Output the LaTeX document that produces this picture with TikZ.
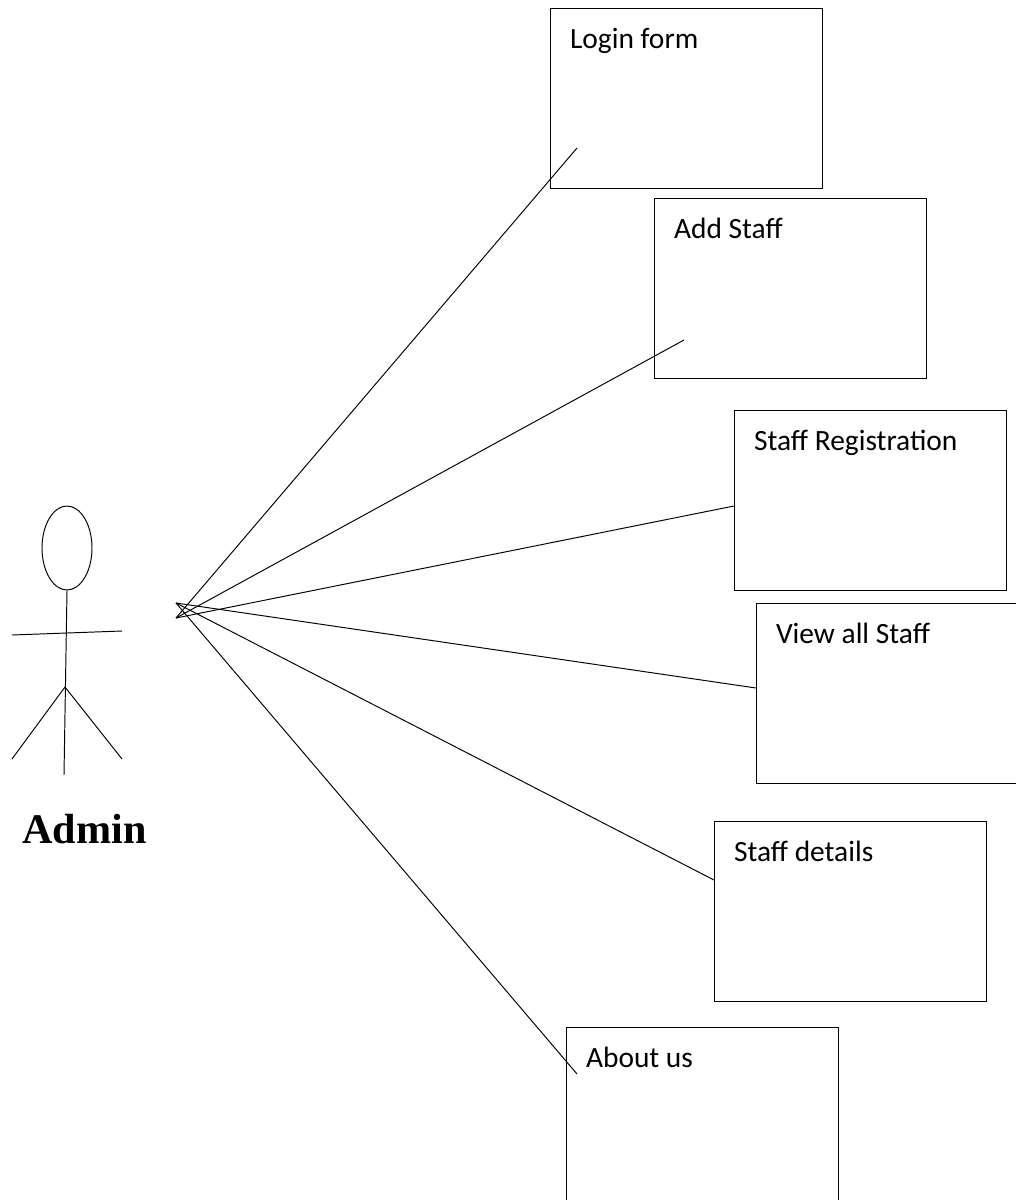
\documentclass[tikz,border=0pt]{standalone}
\usepackage{fontspec}
\usetikzlibrary{shapes.geometric}
\setmainfont{Carlito}
\newfontfamily\adminfont{Liberation Serif}
\tikzset{
    screenbox/.style={draw,rectangle,inner sep=0pt,minimum width=5.44cm,minimum height=3.6cm},
    screentext/.style={anchor=base west,inner sep=0pt,font=\fontsize{16.75pt}{20pt}\selectfont},
}

\begin{document}
\begin{tikzpicture}[x=0.02cm,y=-0.02cm,line width=0.55pt]
    \path[use as bounding box,clip] (0,0) rectangle (1016,1200);
    % screens
    \node[screenbox] (login) at (686,98) {};
    \node[screenbox] (add) at (790,288) {};
    \node[screenbox] (reg) at (870,500) {};
    \node[screenbox] (view) at (892,693) {};
    \node[screenbox] (details) at (850,911) {};
    \node[screenbox] (about) at (702,1117) {};
    \node[screentext] (logintext) at ([shift={+(20,40.5)}]login.north west) {Login form};
    \node[screentext] (addtext) at ([shift={+(20,40.5)}]add.north west) {Add Staff};
    \node[screentext] (regtext) at ([shift={+(20,40.5)}]reg.north west) {Staff Registration};
    \node[screentext] (viewtext) at ([shift={+(20,40.5)}]view.north west) {View all Staff};
    \node[screentext] (detailstext) at ([shift={+(20,40.5)}]details.north west) {Staff details};
    \node[screentext] (abouttext) at ([shift={+(20,40.5)}]about.north west) {About us};
    % actor
    \node[draw,ellipse,inner sep=0pt,minimum width=1cm,minimum height=1.68cm] (head) at (67,548) {};
    \coordinate (foot) at (64,775);
    \coordinate (hip) at (65,687);
    \coordinate (handl) at (12,635);
    \coordinate (handr) at (122,631);
    \coordinate (footl) at (12,759);
    \coordinate (footr) at (122,759);
    \draw (head.south)--(foot);
    \draw (handl)--(handr);
    \draw (hip)--(footl);
    \draw (hip)--(footr);
    \node[anchor=base west,inner sep=0pt,font=\adminfont\bfseries\fontsize{24pt}{29pt}\selectfont] (admin) at (22,843) {Admin};
    % connectors
    \coordinate (fanup) at (176,603);
    \coordinate (fanlow) at (176,618);
    \coordinate (loginend) at (577,148);
    \coordinate (addend) at (684,340);
    \coordinate (regend) at (734,506);
    \coordinate (viewend) at (756,688);
    \coordinate (detailsend) at (714,880);
    \coordinate (aboutend) at (577,1074);
    \draw (fanlow)--(loginend);
    \draw (fanlow)--(addend);
    \draw (fanlow)--(regend);
    \draw (fanup)--(viewend);
    \draw (fanup)--(detailsend);
    \draw (fanup)--(aboutend);
\end{tikzpicture}
\end{document}
